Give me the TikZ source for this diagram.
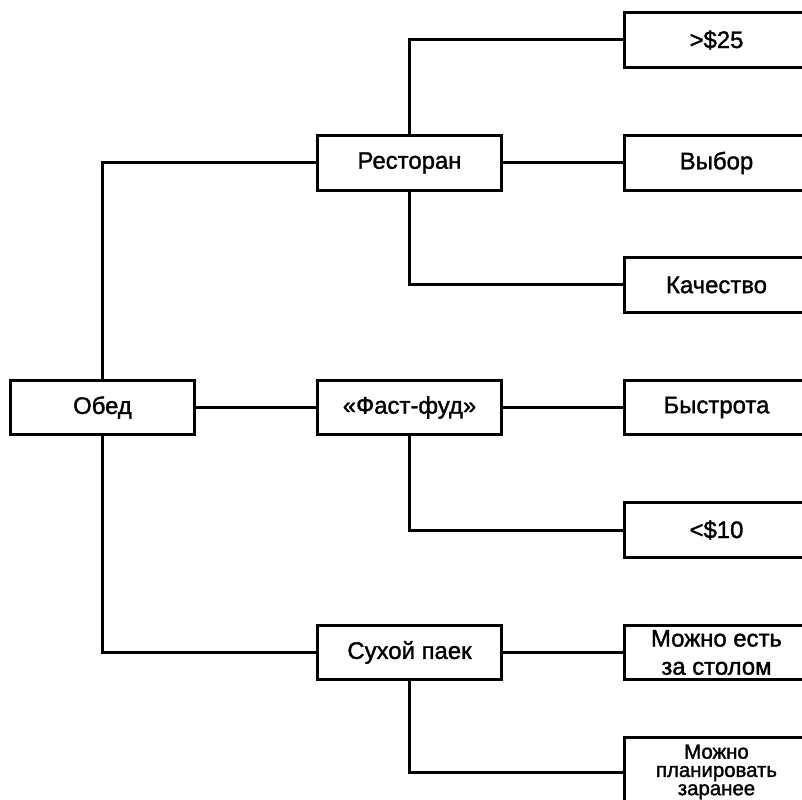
\documentclass[tikz,border=0pt]{standalone}
\usepackage{fontspec}
\setmainfont{Liberation Sans}[FakeBold=1.5]
\begin{document}
\begin{tikzpicture}[x=0.025cm,y=-0.025cm,
boxnode/.style={draw, line width=0.075cm, minimum width=4.6cm, minimum height=1.35cm, inner sep=2pt, align=center, font=\fontsize{17}{20}\selectfont},
smallnode/.style={boxnode, minimum height=1.7cm, font=\fontsize{14.5}{13}\selectfont},
link/.style={line width=0.075cm},
]
\useasboundingbox (0,0) rectangle (802,800);
\clip (0,0) rectangle (802,800);
%Nodes
\node[boxnode] (obed) at (102.5,407.5) {Обед};
\node[boxnode] (restoran) at (409.5,163) {Ресторан};
\node[boxnode] (fastfood) at (409.5,407.5) {«Фаст-фуд»};
\node[boxnode] (sukhoy) at (409.5,652.5) {Сухой паек};
\node[boxnode] (over25) at (716.5,40) {>\$25};
\node[boxnode] (vybor) at (716.5,163) {Выбор};
\node[boxnode] (kachestvo) at (716.5,285) {Качество};
\node[boxnode] (bystrota) at (716.5,407.5) {Быстрота};
\node[boxnode] (under10) at (716.5,530) {<\$10};
\node[boxnode] (za_stolom) at (716.5,652.5) {Можно есть\\за столом};
\node[smallnode] (zaranee) at (716.5,772) {Можно\\планировать\\заранее};

%Lines
\draw[link] (obed.north) |- (restoran.west);
\draw[link] (obed.east) -- (fastfood.west);
\draw[link] (obed.south) |- (sukhoy.west);
\draw[link] (restoran.north) |- (over25.west);
\draw[link] (restoran.east) -- (vybor.west);
\draw[link] (restoran.south) |- (kachestvo.west);
\draw[link] (fastfood.east) -- (bystrota.west);
\draw[link] (fastfood.south) |- (under10.west);
\draw[link] (sukhoy.east) -- (za_stolom.west);
\draw[link] (sukhoy.south) |- (zaranee.west);

\end{tikzpicture}
\end{document}
